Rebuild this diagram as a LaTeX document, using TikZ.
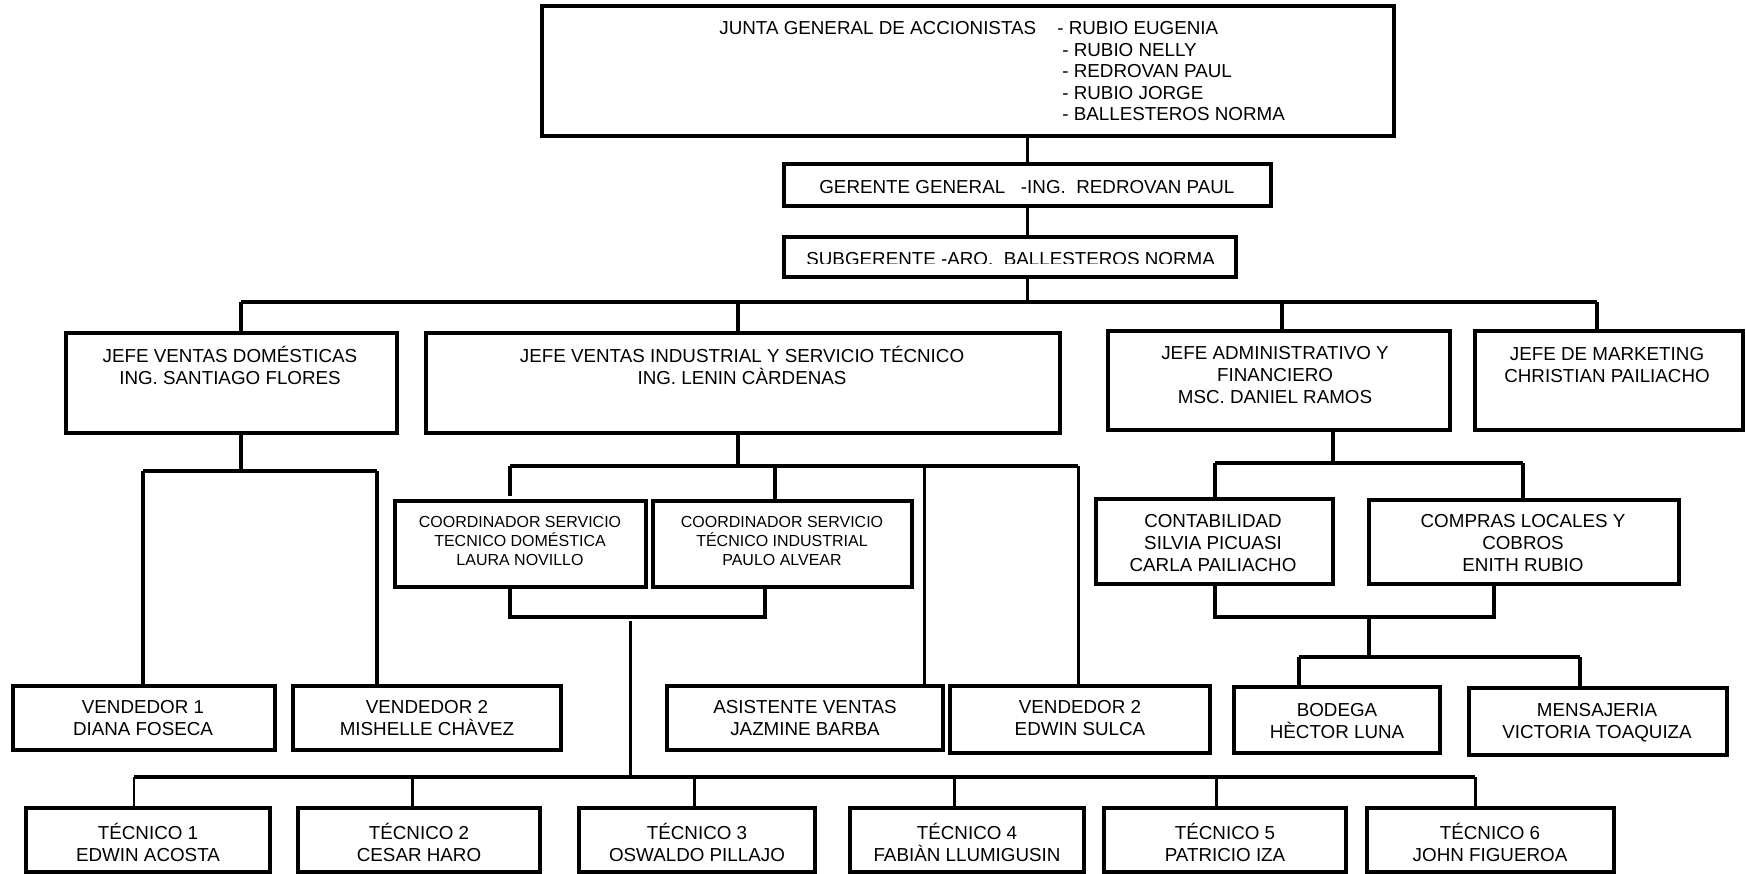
\documentclass[tikz,border=0pt]{standalone}
\usepackage{fontspec}
\setmainfont{Liberation Sans}
\usepackage{tikz}

\tikzset{
    orgbox/.style 2 args={draw, line width=2.2pt, inner sep=0pt, outer sep=0pt,
        anchor=north west, minimum width=#1*0.02cm, minimum height=#2*0.02cm},
    txt/.style={font=\fontsize{10.7}{12.5}\selectfont, align=center, inner sep=0pt,
        anchor=north, execute at begin node={\vphantom{É}}},
    smalltxt/.style={txt, font=\fontsize{9.1}{10.9}\selectfont},
    link/.style={line width=1.9pt},
    thinlink/.style={line width=1.7pt},
    thicklink/.style={line width=2.6pt}
}

\begin{document}
\begin{tikzpicture}[x=0.02cm, y=-0.02cm]
    \useasboundingbox (0,0) rectangle (1746,874);

    % Junta, gerente, subgerente
    \node[orgbox={852}{130}] (junta) at (542,6) {};
    \node[anchor=base west, inner sep=0pt, font=\fontsize{10.7}{12.5}\selectfont] (juntat) at (719,34.5) {JUNTA GENERAL DE ACCIONISTAS};
    \node[anchor=north west, align=left, inner sep=0pt, font=\fontsize{10.7}{12.2}\selectfont] (socios) at (1057,21.5)
        {- RUBIO EUGENIA\\\hspace*{1mm}- RUBIO NELLY\\\hspace*{1mm}- REDROVAN PAUL\\\hspace*{1mm}- RUBIO JORGE\\\hspace*{1mm}- BALLESTEROS NORMA};
    \node[orgbox={487}{42}] (ger) at (784,164) {};
    \node[anchor=base west, inner sep=0pt, font=\fontsize{10.7}{12.5}\selectfont] (gert) at (819,193.5) {GERENTE GENERAL\ \ \ -ING.\ \ REDROVAN PAUL};
    \node[orgbox={452}{40}] (sub) at (784,237) {};
    \begin{scope}
        \clip (786,239) rectangle (1234,264);
        \node[anchor=base west, inner sep=0pt, font=\fontsize{10.7}{12.5}\selectfont] (subt) at (806,266) {SUBGERENTE -ARQ.\ \ BALLESTEROS NORMA};
    \end{scope}

    % Jefes
    \node[orgbox={331}{100}] (jvd) at (66,333) {};
    \node[txt] (jvdt) at (230,346) {JEFE VENTAS DOMÉSTICAS\\ING. SANTIAGO FLORES};
    \node[orgbox={634}{100}] (jvi) at (426,333) {};
    \node[txt] (jvit) at (742,346) {JEFE VENTAS INDUSTRIAL Y SERVICIO TÉCNICO\\ING. LENIN CÀRDENAS};
    \node[orgbox={342}{99}] (jaf) at (1108,331) {};
    \node[txt] (jaft) at (1275,346) {JEFE ADMINISTRATIVO Y\\FINANCIERO\\MSC. DANIEL RAMOS};
    \node[orgbox={268}{99}] (jmk) at (1475,331) {};
    \node[txt] (jmkt) at (1607,347) {JEFE DE MARKETING\\CHRISTIAN PAILIACHO};

    % Coordinadores y administracion
    \node[orgbox={251}{86}] (cdom) at (395,501) {};
    \node[smalltxt] (cdomt) at (520,515.5) {COORDINADOR SERVICIO\\TECNICO DOMÉSTICA\\LAURA NOVILLO};
    \node[orgbox={259}{86}] (cind) at (653,501) {};
    \node[smalltxt] (cindt) at (782,515.5) {COORDINADOR SERVICIO\\TÉCNICO INDUSTRIAL\\PAULO ALVEAR};
    \node[orgbox={237}{85}] (cont) at (1096,499) {};
    \node[txt] (contt) at (1213,514.5) {CONTABILIDAD\\SILVIA PICUASI\\CARLA PAILIACHO};
    \node[orgbox={310}{84}] (comp) at (1369,500) {};
    \node[txt] (compt) at (1523,514.5) {COMPRAS LOCALES Y\\COBROS\\ENITH RUBIO};

    % Vendedores, asistente, bodega, mensajeria
    \node[orgbox={262}{64}] (ven1) at (13,686) {};
    \node[txt] (ven1t) at (143,700) {VENDEDOR 1\\DIANA FOSECA};
    \node[orgbox={268}{64}] (ven2) at (293,686) {};
    \node[txt] (ven2t) at (427,700) {VENDEDOR 2\\MISHELLE CHÀVEZ};
    \node[orgbox={276}{64}] (asis) at (667,686) {};
    \node[txt] (asist) at (805,700) {ASISTENTE VENTAS\\JAZMINE BARBA};
    \node[orgbox={260}{67}] (ven3) at (950,686) {};
    \node[txt] (ven3t) at (1080,700) {VENDEDOR 2\\EDWIN SULCA};
    \node[orgbox={206}{66}] (bod) at (1234,687) {};
    \node[txt] (bodt) at (1337,703) {BODEGA\\HÈCTOR LUNA};
    \node[orgbox={258}{67}] (men) at (1469,688) {};
    \node[txt] (ment) at (1597,703) {MENSAJERIA\\VICTORIA TOAQUIZA};

    % Tecnicos
    \node[orgbox={244}{64}] (tec1) at (26,808) {};
    \node[txt] (tec1t) at (148,823) {TÉCNICO 1\\EDWIN ACOSTA};
    \node[orgbox={242}{64}] (tec2) at (298,808) {};
    \node[txt] (tec2t) at (419,823) {TÉCNICO 2\\CESAR HARO};
    \node[orgbox={236}{64}] (tec3) at (579,808) {};
    \node[txt] (tec3t) at (697,823) {TÉCNICO 3\\OSWALDO PILLAJO};
    \node[orgbox={234}{64}] (tec4) at (850,808) {};
    \node[txt] (tec4t) at (967,823) {TÉCNICO 4\\FABIÀN LLUMIGUSIN};
    \node[orgbox={242}{64}] (tec5) at (1104,808) {};
    \node[txt] (tec5t) at (1225,823) {TÉCNICO 5\\PATRICIO IZA};
    \node[orgbox={247}{64}] (tec6) at (1367,808) {};
    \node[txt] (tec6t) at (1490,823) {TÉCNICO 6\\JOHN FIGUEROA};

    % Bus points
    \coordinate (bus1w) at (241,302);
    \coordinate (bus1e) at (1597,302);
    \coordinate (d1jvi) at (738,302);
    \coordinate (d1jaf) at (1282,302);
    \coordinate (vdw) at (143,471);
    \coordinate (vde) at (377,471);
    \coordinate (viw) at (510,466);
    \coordinate (vic) at (775,466);
    \coordinate (via) at (924,466);
    \coordinate (vie) at (1078,466);
    \coordinate (stub) at (510,496);
    \coordinate (cbl) at (510,617);
    \coordinate (cbr) at (765,617);
    \coordinate (ctop) at (630,621);
    \coordinate (t1) at (134,777);
    \coordinate (t2) at (412,777);
    \coordinate (t3) at (694,777);
    \coordinate (t4) at (954,777);
    \coordinate (t5) at (1216,777);
    \coordinate (t6) at (1475,777);
    \coordinate (aw) at (1215,463);
    \coordinate (ad) at (1333,463);
    \coordinate (ae) at (1523,463);
    \coordinate (abl) at (1215,617);
    \coordinate (am) at (1369,617);
    \coordinate (abr) at (1494,617);
    \coordinate (bw) at (1299,657);
    \coordinate (be) at (1580,657);

    % Top spine
    \draw[link] (ger.north) -- (ger.north |- junta.south);
    \draw[link] (ger.south) -- (ger.south |- sub.north);
    \draw[link] (ger.south |- sub.south) -- (ger.south |- bus1w);
    \draw[link] (bus1w) -- (bus1e);
    \draw[link] (bus1w) -- (bus1w |- jvd.north);
    \draw[link] (d1jvi) -- (d1jvi |- jvi.north);
    \draw[link] (d1jaf) -- (d1jaf |- jaf.north);
    \draw[link] (bus1e) -- (bus1e |- jmk.north);

    % Ventas domesticas
    \draw[link] (bus1w |- jvd.south) -- (bus1w |- vdw);
    \draw[link] (vdw) -- (vde);
    \draw[link] (vdw) -- (vdw |- ven1.north);
    \draw[link] (vde) -- (vde |- ven2.north);

    % Ventas industrial
    \draw[link] (d1jvi |- jvi.south) -- (d1jvi |- viw);
    \draw[link] (viw) -- (vie);
    \draw[link] (viw) -- (stub);
    \draw[link] (vic) -- (vic |- cind.north);
    \draw[thinlink] (via) -- (via |- asis.north);
    \draw[thinlink] (vie) -- (vie |- ven3.north);
    \draw[link] (cbl |- cdom.south) -- (cbl) -- (cbr) -- (cbr |- cind.south);
    \draw[thinlink] (ctop) -- (ctop |- t1);

    % Tecnicos
    \draw[thicklink] (t1) -- (t6);
    \draw[thinlink] (t1) -- (t1 |- tec1.north);
    \draw[thinlink] (t2) -- (t2 |- tec2.north);
    \draw[thinlink] (t3) -- (t3 |- tec3.north);
    \draw[thinlink] (t4) -- (t4 |- tec4.north);
    \draw[thinlink] (t5) -- (t5 |- tec5.north);
    \draw[thinlink] (t6) -- (t6 |- tec6.north);

    % Administrativo
    \draw[link] (ad |- jaf.south) -- (ad);
    \draw[link] (aw) -- (ae);
    \draw[link] (aw) -- (aw |- cont.north);
    \draw[link] (ae) -- (ae |- comp.north);
    \draw[link] (abl |- cont.south) -- (abl) -- (abr) -- (abr |- comp.south);
    \draw[link] (am) -- (am |- bw);
    \draw[link] (bw) -- (be);
    \draw[link] (bw) -- (bw |- bod.north);
    \draw[link] (be) -- (be |- men.north);
\end{tikzpicture}
\end{document}
